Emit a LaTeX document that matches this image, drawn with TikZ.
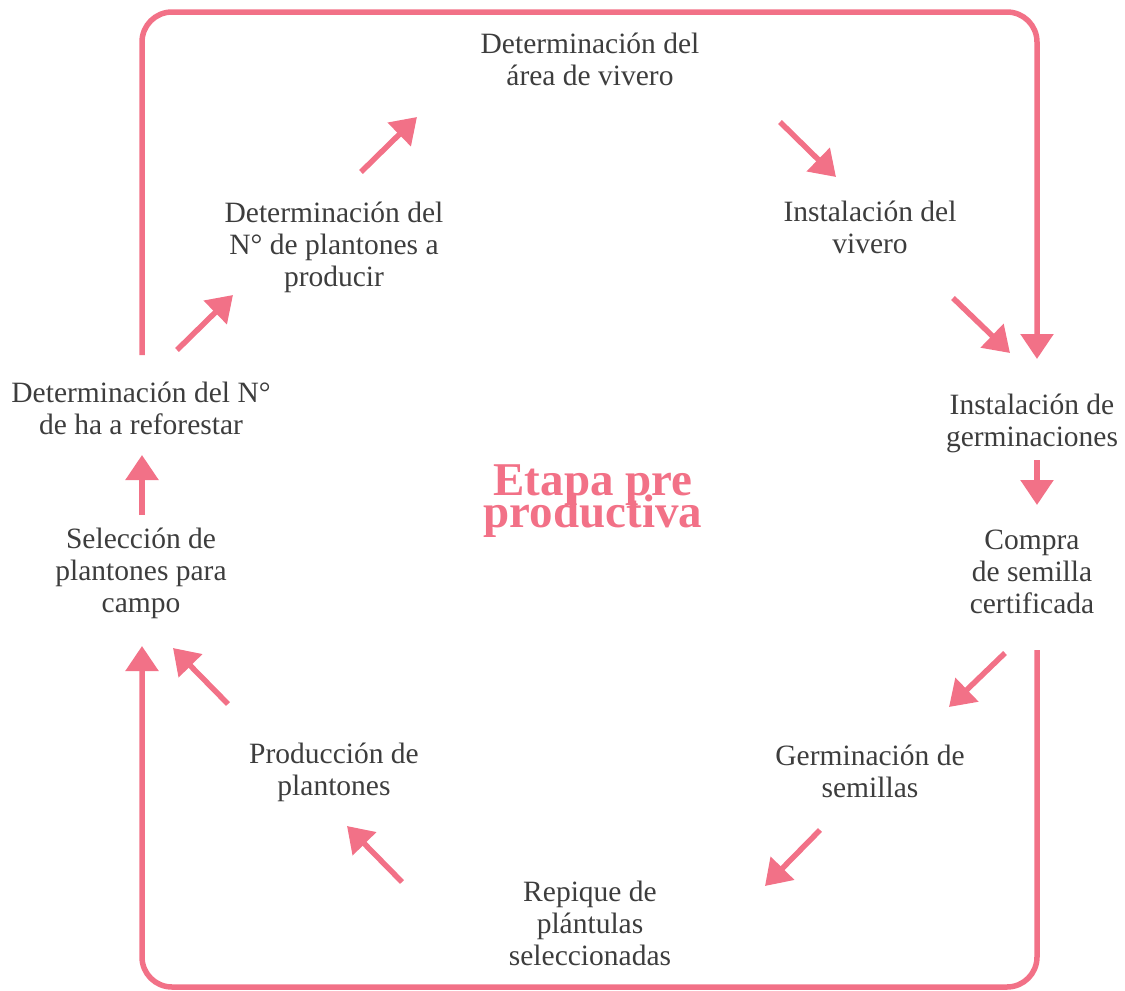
\documentclass[tikz,border=0pt]{standalone}
\usepackage{fontspec}
\setmainfont{Liberation Serif}
\usetikzlibrary{arrows.meta}
\definecolor{pinkc}{RGB}{242,113,135}
\definecolor{txtc}{RGB}{61,61,61}
\setlength{\lineskiplimit}{-100pt}
\tikzset{
  lbl/.style={text=txtc, inner sep=0pt, anchor=base, align=center,
    font=\fontsize{29.5}{32}\selectfont},
  ttl/.style={text=pinkc, inner sep=0pt, anchor=base, align=center,
    font=\fontsize{47}{32}\selectfont\bfseries},
  frame/.style={draw=pinkc, line width=5.5pt, rounded corners=30pt,
    -{Triangle[length=25pt,width=32pt]}},
  arr/.style={draw=pinkc, line width=5.5pt,
    -{Triangle[length=25pt,width=32pt]}}
}
\begin{document}
\begin{tikzpicture}[x=1pt,y=-1pt]
\useasboundingbox (0,0) rectangle (1125,991);
% labels (anchor = baseline of last line)
\node[lbl] (n1) at (590,85) {Determinación del\\área de vivero};
\node[lbl] (n2) at (870,253) {Instalación del\\vivero};
\node[lbl] (n3) at (334,286) {Determinación del\\N° de plantones a\\producir};
\node[lbl] (n4) at (1032,446) {Instalación de\\germinaciones};
\node[lbl] (n5) at (1032,613) {Compra\\de semilla\\certificada};
\node[lbl] (n6) at (870,797) {Germinación de\\semillas};
\node[lbl] (n7) at (590,965) {Repique de\\plántulas\\seleccionadas};
\node[lbl] (n8) at (334,795) {Producción de\\plantones};
\node[lbl] (n9) at (141,612) {Selección de\\plantones para\\campo};
\node[lbl] (n10) at (141,434) {Determinación del N°\\de ha a reforestar};
\node[ttl] (title) at (593,527) {Etapa pre\\productiva};
% frame coordinates
\coordinate (fa) at (142,355);
\coordinate (fb) at (1037,12);
\coordinate (fc) at (1037,359);
\coordinate (fd) at (1037,650);
\coordinate (fe) at (142,987);
\coordinate (ff) at (142,646);
\draw[frame] (fa) |- (fb) -- (fc);
\draw[frame] (fd) |- (fe) -- (ff);
% small arrows
\coordinate (a1s) at (361,172); \coordinate (a1e) at (417,117);
\coordinate (a2s) at (780,122); \coordinate (a2e) at (836,177);
\coordinate (a3s) at (953,298); \coordinate (a3e) at (1010,353);
\coordinate (a4s) at (1037,460); \coordinate (a4e) at (1037,505);
\coordinate (a5s) at (1005,653); \coordinate (a5e) at (949,707);
\coordinate (a6s) at (820,830); \coordinate (a6e) at (765,886);
\coordinate (a7s) at (402,882); \coordinate (a7e) at (347,826);
\coordinate (a8s) at (228,704); \coordinate (a8e) at (173,648);
\coordinate (a9s) at (142,515); \coordinate (a9e) at (142,455);
\coordinate (a10s) at (177,350); \coordinate (a10e) at (233,295);
\foreach \i in {1,...,10} {\draw[arr] (a\i s) -- (a\i e);}
\end{tikzpicture}
\end{document}
